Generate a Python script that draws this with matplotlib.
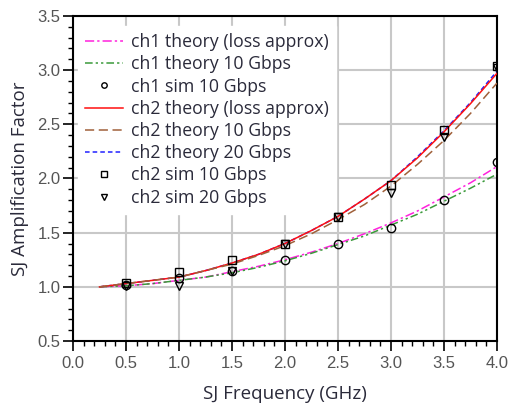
import matplotlib
matplotlib.use('agg')
import matplotlib.pyplot as plt
from matplotlib.ticker import MultipleLocator

# theory curves, sampled every 0.25 GHz
freq = [0.25, 0.5, 0.75, 1.0, 1.25, 1.5, 1.75, 2.0, 2.25, 2.5, 2.75, 3.0, 3.25, 3.5, 3.75, 4.0]
ch1_loss = [1.00, 1.01, 1.03, 1.06, 1.09, 1.14, 1.19, 1.25, 1.32, 1.40, 1.49, 1.59, 1.70, 1.83, 1.96, 2.11]
ch1_10g = [1.00, 1.01, 1.03, 1.06, 1.09, 1.13, 1.18, 1.24, 1.31, 1.39, 1.47, 1.57, 1.67, 1.79, 1.91, 2.04]
ch2_loss = [1.00, 1.03, 1.06, 1.09, 1.15, 1.22, 1.30, 1.40, 1.52, 1.65, 1.81, 1.98, 2.19, 2.43, 2.69, 2.97]
ch2_10g = [1.00, 1.03, 1.06, 1.09, 1.15, 1.21, 1.29, 1.38, 1.49, 1.62, 1.76, 1.93, 2.13, 2.35, 2.60, 2.88]
ch2_20g = [1.00, 1.03, 1.06, 1.09, 1.15, 1.22, 1.30, 1.40, 1.52, 1.65, 1.81, 1.98, 2.20, 2.44, 2.70, 2.99]

# simulation points
sim_freq = [0.5, 1.0, 1.5, 2.0, 2.5, 3.0, 3.5, 4.0]
ch1_sim_10g = [1.02, 1.08, 1.15, 1.25, 1.40, 1.54, 1.80, 2.15]
ch2_sim_10g = [1.04, 1.14, 1.25, 1.40, 1.64, 1.94, 2.45, 3.04]
ch2_sim_20g = [1.01, 1.01, 1.15, 1.40, 1.64, 1.87, 2.38, 3.02]

fig = plt.figure(figsize=(5.08, 4.07), dpi=100)
ax = fig.add_axes([0.1437, 0.162, 0.8346, 0.799])

ax.plot(freq, ch1_loss, color='#ff22dd', lw=1.1, dashes=(6, 2, 1.5, 2), label='ch1 theory (loss approx)', zorder=3)
ax.plot(freq, ch1_10g, color='#3a9a3a', lw=1.1, dashes=(5, 2, 1.5, 2, 1.5, 2), label='ch1 theory 10 Gbps', zorder=3)
ax.plot(sim_freq, ch1_sim_10g, ls='none', marker='o', ms=6, mfc='none', mec='black', mew=1.0,
        label='ch1 sim 10 Gbps', zorder=4)
ax.plot(freq, ch2_loss, color='#ff1010', lw=1.1, label='ch2 theory (loss approx)', zorder=3)
ax.plot(freq, ch2_10g, color='#a0603a', lw=1.1, dashes=(6, 3), label='ch2 theory 10 Gbps', zorder=3)
ax.plot(freq, ch2_20g, color='#2020ff', lw=1.1, dashes=(3, 2), label='ch2 theory 20 Gbps', zorder=2.9)
ax.plot(sim_freq, ch2_sim_10g, ls='none', marker='s', ms=6, mfc='none', mec='black', mew=1.0,
        label='ch2 sim 10 Gbps', zorder=4)
ax.plot(sim_freq, ch2_sim_20g, ls='none', marker='v', ms=6, mfc='none', mec='black', mew=1.0,
        label='ch2 sim 20 Gbps', zorder=4)

ax.set_xlim(0, 4.0)
ax.set_ylim(0.5, 3.5)
ax.xaxis.set_major_locator(MultipleLocator(0.5))
ax.xaxis.set_minor_locator(MultipleLocator(0.1))
ax.yaxis.set_major_locator(MultipleLocator(0.5))
ax.yaxis.set_minor_locator(MultipleLocator(0.1))
ax.xaxis.set_major_formatter(plt.FuncFormatter(lambda v, _: '%.1f' % v))
ax.yaxis.set_major_formatter(plt.FuncFormatter(lambda v, _: '%.1f' % v))

ax.grid(True, which='major', color='#c8c8c8', lw=1.5, zorder=0)
ax.set_axisbelow(True)
for s in ax.spines.values():
    s.set_linewidth(1.5)
ax.tick_params(which='major', direction='out', length=7, width=1.2, color='black',
               labelsize=12, labelcolor='#555555', pad=2)
ax.tick_params(axis='x', which='major', pad=4)
ax.tick_params(which='minor', direction='out', length=3.5, width=1.0, color='black')
for t in ax.get_xticklabels() + ax.get_yticklabels():
    t.set_family('Liberation Sans')

ax.set_xlabel('SJ Frequency (GHz)', family='Open Sans', fontsize=13.5, color='#2a2a3a', labelpad=10)
ax.set_ylabel('SJ Amplification Factor', family='Open Sans', fontsize=13.5, color='#2a2a3a', labelpad=6)

leg = ax.legend(loc='upper left', bbox_to_anchor=(0.0, 0.985), frameon=True, fancybox=False,
                edgecolor='white', facecolor='white', framealpha=1.0, handlelength=2.15,
                handletextpad=0.45, labelspacing=0.24, borderpad=0.4, borderaxespad=0.3,
                markerscale=0.65, prop={'family': 'Open Sans', 'size': 12.7})
leg.set_zorder(1.5)
for t in leg.get_texts():
    t.set_color('#2a2a3a')

fig.savefig('out.png', dpi=100)
